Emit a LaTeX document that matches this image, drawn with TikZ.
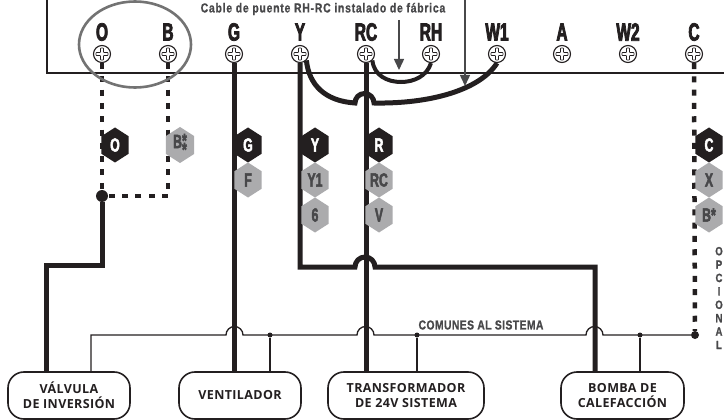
\documentclass[tikz,border=0pt]{standalone}
\usepackage{fontspec}
\usetikzlibrary{shapes.geometric,arrows.meta}
\setmainfont{Liberation Sans}
\newfontfamily\narrowfont[FakeStretch=0.62,FakeBold=3]{Liberation Sans Bold}
\newfontfamily\hexfont[FakeStretch=0.72,FakeBold=2.6]{Liberation Sans Bold}
\newfontfamily\notefont[FakeStretch=0.8,LetterSpace=3,FakeBold=1]{Liberation Sans Bold}
\newfontfamily\boxfont[LetterSpace=3]{Open Sans Bold}
\definecolor{hexgray}{HTML}{ABABAD}
\definecolor{notegray}{HTML}{48484A}
\definecolor{wireblack}{HTML}{231F20}
\tikzset{
  screw/.style={circle,draw=wireblack,fill=white,line width=1.1pt,minimum size=17pt,inner sep=0pt},
  termlabel/.style={font=\narrowfont\fontsize{25}{25}\selectfont,text=wireblack},
  hexblack/.style={regular polygon,regular polygon sides=6,shape border rotate=30,xscale=0.9,transform shape,
    minimum size=35pt,inner sep=0pt,fill=wireblack,text=white,font=\hexfont\fontsize{19}{19}\selectfont},
  hexgrey/.style={hexblack,fill=hexgray,text=notegray},
  device/.style={rectangle,rounded corners=16pt,draw=wireblack,line width=1.6pt,fill=white,align=center,
    minimum height=47pt,font=\boxfont\fontsize{12.5}{15}\selectfont,text=wireblack},
  wire/.style={line width=5pt,draw=wireblack},
  dashwire/.style={line width=4.5pt,draw=wireblack,dash pattern=on 6pt off 7.3pt},
  thinwire/.style={line width=1.3pt,draw=wireblack},
  dot/.style={circle,fill=wireblack,inner sep=0pt,minimum size=#1},
  note/.style={font=\notefont\fontsize{13}{13}\selectfont,text=notegray},
  notearrow/.style={line width=1.5pt,draw=notegray,-{Triangle[length=11pt,width=10pt]}}
}
\begin{document}
\begin{tikzpicture}[x=1pt,y=-1pt]
\useasboundingbox (0,0) rectangle (724,420);
%caja del termostato
  \draw[line width=1.1pt,draw=wireblack] (47,-3) -- (47,73) -- (727,73);
%terminales
  \foreach \name/\x/\txt in {O/102/O,B/168/B,G/234/G,Y/300/Y,RC/366/RC,RH/431/RH,W/497/W1,A/562/A,WW/628/W2,C/694/C}{
    \node[screw] (t\name) at (\x,54) {};
    \draw[wireblack,line width=0.7pt,fill=white,rounded corners=0.5pt]
      (\x-1.5,54-6) -- (\x+1.5,54-6) -- (\x+1.5,54-1.5) -- (\x+6,54-1.5) -- (\x+6,54+1.5) -- (\x+1.5,54+1.5)
      -- (\x+1.5,54+6) -- (\x-1.5,54+6) -- (\x-1.5,54+1.5) -- (\x-6,54+1.5) -- (\x-6,54-1.5) -- (\x-1.5,54-1.5) -- cycle;
    \node[termlabel] (l\name) at (\x,32) {\txt};
  }
%equipos
  \node[device,minimum width=122pt] (valve) at (69,395.5) {VÁLVULA\\DE INVERSIÓN};
  \node[device,minimum width=122pt] (fan) at (240,395.5) {VENTILADOR};
  \node[device,minimum width=156pt] (trafo) at (406,395.5) {TRANSFORMADOR\\DE 24V SISTEMA};
  \node[device,minimum width=123pt] (pump) at (622.5,395.5) {BOMBA DE\\CALEFACCIÓN};
%puntos
  \node[dot=12pt] (joint) at (102,196) {};
  \node[dot=5pt] (cFan) at (270,335) {};
  \node[dot=5pt] (cTrafo) at (417,335) {};
  \node[dot=5pt] (cPump) at (640,335) {};
  \node[dot=8pt] (cEnd) at (695,335) {};
%cables discontinuos
  \draw[dashwire] (tO.south) -- (joint);
  \draw[dashwire] (tB.south) -- (168,196) -- (joint);
  \draw[dashwire] (tC.south) -- (cEnd);
%cables
  \draw[wire] (joint) -- (102,265) -- (46,265) -- (46,372);
  \draw[wire] (tG.south) -- (fan.north -| tG);
  \draw[wire] (tRC.south) -- (trafo.north -| tRC);
  \draw[wire] (tY.south) -- (300,267) -- (355,267) arc (180:360:10) -- (595,267) -- (595,372);
  \draw[wire] (tY.south east) .. controls (309,85) and (325,101) .. (355,103) arc (180:360:9.5)
    .. controls (430,104) and (480,90) .. (tW.south);
  \draw[wire,line width=4pt] (tRC.south east) .. controls (374,76) and (388,82) .. (401,82)
    .. controls (414,82) and (427,76) .. (tRH.south);
%comun
  \draw[thinwire] (valve.north -| 91,0) -- (91,335) -- (226,335) arc (180:360:8.5) -- (357,335) arc (180:360:8.5)
    -- (586,335) arc (180:360:8.5) -- (cEnd);
  \draw[thinwire] (cFan) -- (fan.north -| cFan);
  \draw[thinwire] (cTrafo) -- (trafo.north -| cTrafo);
  \draw[thinwire] (cPump) -- (pump.north -| cPump);
%hexagonos
  \foreach \name/\x/\y/\txt in {O/115/145/O,G/248/145/G,Y/315/145/Y,R/379/145/R,C/709/145/C}
    \node[hexblack] (h\name) at (\x,\y) {\txt};
  \foreach \name/\x/\y/\txt in {F/248/180/F,Yu/315/180/Y1,Six/315/215/6,Rc/379/180/RC,V/379/215/V,X/709/180/X,Bs/709/215/B*}
    \node[hexgrey] (h\name) at (\x,\y) {\txt};
  \node[hexgrey] (hB) at (180,145) {B\rlap{\raisebox{1pt}{*}}\raisebox{-8pt}{*}};
%etiquetas y flechas
  \node[note] (bridge) at (323,9) {\addfontfeature{LetterSpace=6}Cable de puente RH-RC instalado de fábrica};
  \node[note] (common) at (481,325) {COMUNES AL SISTEMA};
  \node[note,align=center,font=\notefont\fontsize{12}{13.4}\selectfont] (optional) at (719,298) {O\\P\\C\\I\\O\\N\\A\\L};
  \draw[notearrow] (399,20) -- (399,70);
  \draw[notearrow] (465,-2) -- (465,86);
  \node[draw=gray!90!black,line width=2.6pt,ellipse,minimum width=112pt,minimum height=86pt,inner sep=0pt] (group) at (135,44.5) {};
\end{tikzpicture}
\end{document}
